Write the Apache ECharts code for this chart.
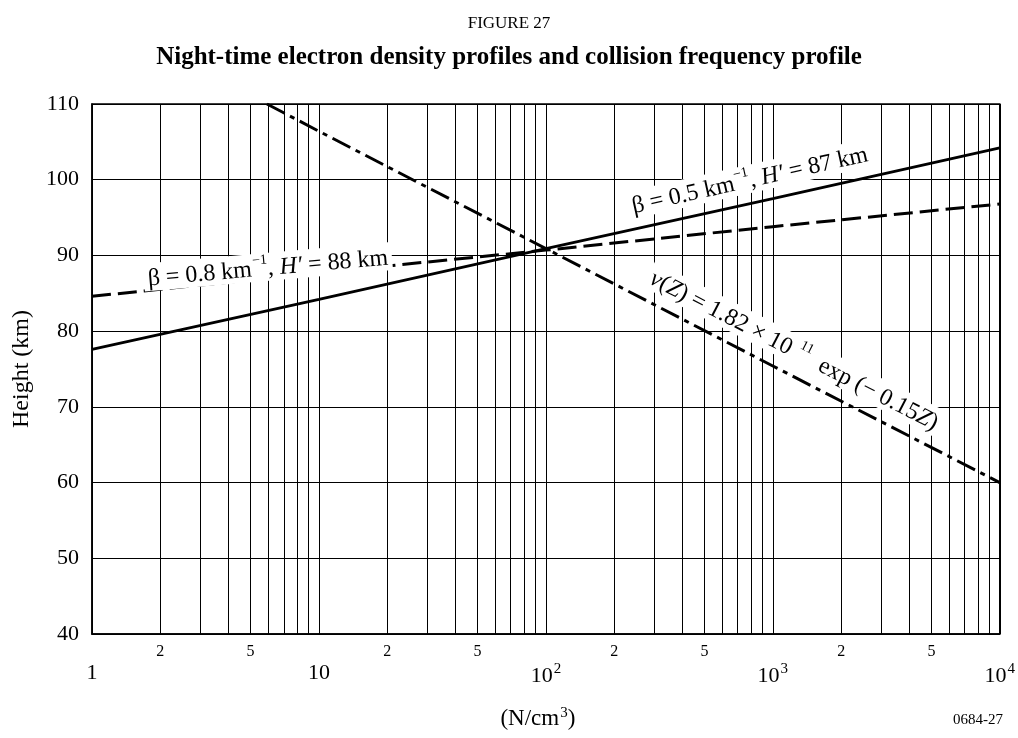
<!DOCTYPE html>
<html><head><meta charset="utf-8">
<script src="https://cdn.jsdelivr.net/npm/echarts@6/dist/echarts.min.js"></script>
<style>html,body{margin:0;padding:0;background:#fff}#c{width:1018px;height:738px}</style>
</head><body><div id="c"></div>
<script>
// ---- data ----
const yTicks = [40, 50, 60, 70, 80, 90, 100, 110];
const majorX = [1, 10, 100, 1000, 10000];
const minorLabelX = [2, 5, 20, 50, 200, 500, 2000, 5000];
const minorGridX = [2, 3, 4, 5, 6, 7, 8, 9, 20, 30, 40, 50, 60, 70, 80, 90,
  200, 300, 400, 500, 600, 700, 800, 900, 2000, 3000, 4000, 5000, 6000, 7000, 8000, 9000];
const beta05X = [1, 10, 100, 1000, 10000];
const beta05Y = [77.6, 84.2, 90.9, 97.5, 104.2];
const beta08X = [1, 10, 100, 1000, 10000];
const beta08Y = [84.6, 87.7, 90.7, 93.8, 96.8];
const nuX = [5.9, 10, 100, 1000, 10000];
const nuY = [110, 106.4, 90.9, 75.4, 60];

const FONT = '"Liberation Serif", "DejaVu Serif", serif';
const zip = (xs, ys) => xs.map((x, i) => [x, ys[i]]);
const chart = echarts.init(document.getElementById('c'), null, {renderer: 'canvas'});

const supRich = {
  s: {fontSize: 15, fontFamily: FONT, color: '#000', verticalAlign: 'top', padding: [0, 0, 10, 1]},
  n: {fontSize: 22, fontFamily: FONT, color: '#000', verticalAlign: 'bottom'}
};

chart.setOption({
  animation: false,
  backgroundColor: '#fff',
  title: [
    {text: 'FIGURE 27', left: 'center', top: 10,
     textStyle: {fontFamily: FONT, fontSize: 17, fontWeight: 'normal', color: '#000'}},
    {text: 'Night-time electron density profiles and collision frequency profile', left: 'center', top: 40,
     textStyle: {fontFamily: FONT, fontSize: 25, fontWeight: 'bold', color: '#000'}}
  ],
  grid: {left: 92, right: 17, top: 104, bottom: 104, containLabel: false,
         show: true, borderColor: '#000', borderWidth: 1.5},
  xAxis: [
    {type: 'log', logBase: 10, min: 1, max: 10000, position: 'bottom',
     name: '(N/cm{s|3})', nameLocation: 'middle', nameGap: 72,
     nameTextStyle: {fontFamily: FONT, fontSize: 23, color: '#000', padding: [0, 16, 0, 0],
       rich: {s: {fontSize: 15, fontFamily: FONT, verticalAlign: 'top', padding: [0, 0, 10, 1]},
              n: {fontSize: 23, fontFamily: FONT, verticalAlign: 'bottom'}}},
     axisLine: {show: true, lineStyle: {color: '#000', width: 1.5}},
     axisTick: {show: false, customValues: majorX},
     splitLine: {show: true, lineStyle: {color: '#000', width: 1}},
     axisLabel: {customValues: majorX, margin: 28, fontFamily: FONT, fontSize: 22, color: '#000',
       showMinLabel: true, showMaxLabel: true,
       formatter: v => {
         const e = Math.round(Math.log10(v));
         if (e === 0) return '{n|1}';
         if (e === 1) return '{n|10}';
         return '{n|10}{s|' + e + '}';
       },
       rich: supRich}
    },
    {type: 'log', logBase: 10, min: 1, max: 10000, position: 'bottom',
     axisLine: {show: false},
     axisTick: {show: false, customValues: minorGridX},
     splitLine: {show: true, lineStyle: {color: '#000', width: 1}},
     axisLabel: {customValues: minorLabelX, margin: 10, fontFamily: FONT, fontSize: 16, color: '#000',
       formatter: v => String(Math.round(v / Math.pow(10, Math.floor(Math.log10(v) + 1e-9))))}
    }
  ],
  yAxis: {type: 'value', min: 40, max: 110, interval: 10,
    name: 'Height (km)', nameLocation: 'middle', nameGap: 58, nameRotate: 90,
    nameTextStyle: {fontFamily: FONT, fontSize: 24, color: '#000'},
    axisLine: {show: true, lineStyle: {color: '#000', width: 1.5}},
    axisTick: {show: false},
    splitLine: {show: true, lineStyle: {color: '#000', width: 1}},
    axisLabel: {margin: 13, fontFamily: FONT, fontSize: 22, color: '#000'}
  },
  series: [
    {name: 'beta05', type: 'line', xAxisIndex: 0, symbol: 'none', z: 5,
     data: zip(beta05X, beta05Y), lineStyle: {color: '#000', width: 2.8, type: 'solid'}},
    {name: 'beta08', type: 'line', xAxisIndex: 0, symbol: 'none', z: 5,
     data: zip(beta08X, beta08Y), lineStyle: {color: '#000', width: 3, type: [19, 7]}},
    {name: 'nu', type: 'line', xAxisIndex: 0, symbol: 'none', z: 5,
     data: zip(nuX, nuY), lineStyle: {color: '#000', width: 3, type: [20, 6, 5, 6]}}
  ]
});

// ---- annotations (anchored in data coordinates) ----
const annRich = {
  t: {fontSize: 24, fontFamily: FONT, fill: '#000', verticalAlign: 'bottom'},
  it: {fontSize: 24, fontFamily: FONT, fontStyle: 'italic', fill: '#000', verticalAlign: 'bottom'},
  sup: {fontSize: 14, fontFamily: FONT, fill: '#000', verticalAlign: 'top', padding: [0, 0, 14, 1]}
};
const annotations = [
  {at: [5.95, 88.5], rot: 5.0, text: '{t|β = 0.8 km}{sup|−1}{t|, }{it|H′}{t| = 88 km}'},
  {at: [790, 100.1], rot: 12.5, text: '{t|β = 0.5 km}{sup|−1}{t|, }{it|H′}{t| = 87 km}'},
  {at: [1250, 77.6], rot: -27.3, text: '{it|ν}{t|(}{it|Z}{t|) = 1.82 × 10 }{sup|11}{t|  exp (− 0.15}{it|Z}{t|)}'}
];
chart.setOption({
  graphic: annotations.map(a => {
    const p = chart.convertToPixel({xAxisIndex: 0, yAxisIndex: 0}, a.at);
    return {type: 'text', x: p[0], y: p[1], rotation: a.rot * Math.PI / 180, z: 100,
      style: {text: a.text, align: 'center', verticalAlign: 'middle', fontFamily: FONT, fontSize: 24,
        fill: '#000', backgroundColor: '#fff', padding: [0, 4], rich: annRich}};
  }).concat([
    {type: 'text', right: 15, bottom: 10, z: 100,
     style: {text: '0684-27', fontFamily: FONT, fontSize: 15, fill: '#000'}}
  ])
});
</script></body></html>
